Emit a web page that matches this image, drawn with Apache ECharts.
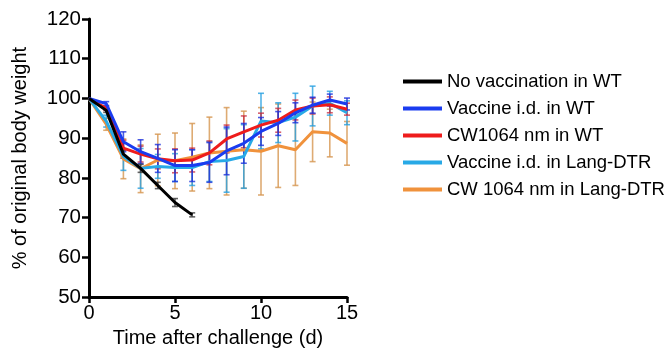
<!DOCTYPE html>
<html>
<head>
<meta charset="utf-8">
<script src="https://cdn.jsdelivr.net/npm/echarts@6/dist/echarts.min.js"></script>
<style>
  html, body { margin: 0; padding: 0; background: #fff; }
  #chart { width: 671px; height: 353px; }
</style>
</head>
<body>
<div id="chart"></div>
<script>
// days after challenge
const days = [0, 1, 2, 3, 4, 5, 6, 7, 8, 9, 10, 11, 12, 13, 14, 15]

// % of original body weight, mean and error (half-width)
const noVacc = [100, 97, 86, 82.4, 78.1, 73.8, 70.7]
const noVaccErr = [0, 0.5, 1, 1, 0.8, 1, 0.5]

const vaccWT = [100, 98.7, 89.1, 86.6, 84.9, 83.1, 83.1, 83.9, 86.8, 88.7, 91.7, 93.7, 96.4, 98.3, 99.6, 98.6]
const vaccWTErr = [0, 0.5, 2.5, 3, 3.5, 4, 4, 5, 6, 5, 3.5, 3, 2.5, 2, 1.5, 1.5]

const cwWT = [100, 97.5, 87.5, 86, 84.8, 84.3, 84.5, 86.3, 89.8, 91.6, 93.3, 94.5, 97.1, 98.1, 98.4, 97.3]
const cwWTErr = [0, 0.5, 2, 2, 2.5, 3, 3, 3, 3.5, 4, 3, 3, 2.5, 2, 2, 1.5]

const vaccDTR = [100, 94.3, 85.4, 82.4, 82.9, 82.6, 82.6, 84.1, 84.4, 85.4, 94.3, 93.9, 95.3, 98.1, 98.8, 96.4]
const vaccDTRErr = [0, 1.5, 3.5, 5, 3, 3.5, 4.5, 5, 8, 8, 7, 5, 6, 5, 3, 3]

const cwDTR = [100, 93.5, 84.8, 82.3, 84.5, 84.3, 85.2, 86.3, 86.7, 87.1, 86.7, 88.1, 87.1, 91.6, 91.3, 88.7]
const cwDTRErr = [0, 1.5, 5, 6, 6.5, 7, 8.5, 9, 11, 9.7, 11, 10.5, 9, 7.5, 6, 5.5]

const groups = [
  { name: "CW 1064 nm in Lang-DTR", data: cwDTR, err: cwDTRErr, color: "#f0923c", bar: "rgba(214,150,80,0.8)" },
  { name: "Vaccine i.d. in Lang-DTR", data: vaccDTR, err: vaccDTRErr, color: "#28a9e6", bar: "rgba(40,160,225,0.8)" },
  { name: "CW1064 nm in WT", data: cwWT, err: cwWTErr, color: "#ee1c1c", bar: "rgba(200,40,60,0.75)" },
  { name: "Vaccine i.d. in WT", data: vaccWT, err: vaccWTErr, color: "#1a3cf0", bar: "rgba(30,50,220,0.8)" },
  { name: "No vaccination in WT", data: noVacc, err: noVaccErr, color: "#000000", bar: "rgba(60,60,60,0.8)" },
]

const legendOrder = [
  "No vaccination in WT",
  "Vaccine i.d. in WT",
  "CW1064 nm in WT",
  "Vaccine i.d. in Lang-DTR",
  "CW 1064 nm in Lang-DTR",
]

const font = "Liberation Sans, Arial, sans-serif"

function errorBars(g, i) {
  return {
    type: "custom",
    z: 2 + i,
    silent: true,
    data: g.data.map((v, k) => [days[k], v, g.err[k]]),
    renderItem: (params, api) => {
      const x = api.value(0)
      const y = api.value(1)
      const e = api.value(2)
      if (!e) return null
      const hi = api.coord([x, y + e])
      const lo = api.coord([x, y - e])
      const w = 3
      const style = { stroke: g.bar, lineWidth: 1.6 }
      return {
        type: "group",
        children: [
          { type: "line", shape: { x1: hi[0], y1: hi[1], x2: lo[0], y2: lo[1] }, style },
          { type: "line", shape: { x1: hi[0] - w, y1: hi[1], x2: hi[0] + w, y2: hi[1] }, style },
          { type: "line", shape: { x1: lo[0] - w, y1: lo[1], x2: lo[0] + w, y2: lo[1] }, style },
        ],
      }
    },
  }
}

const series = []
groups.forEach((g, i) => series.push(errorBars(g, i)))
groups.forEach((g, i) => {
  series.push({
    name: g.name,
    type: "line",
    z: 10 + i,
    data: g.data.map((v, k) => [days[k], v]),
    showSymbol: false,
    symbol: "none",
    lineStyle: { color: g.color, width: 3 },
    itemStyle: { color: g.color },
  })
})

const chart = echarts.init(document.getElementById("chart"), null, { renderer: "canvas" })
chart.setOption({
  animation: false,
  backgroundColor: "#fff",
  grid: { left: 89, right: 324, top: 19, bottom: 54 },
  legend: {
    data: legendOrder,
    orient: "vertical",
    left: 398,
    top: 67,
    icon: "rect",
    itemWidth: 39,
    itemHeight: 4,
    itemGap: 8,
    textStyle: { fontFamily: font, fontSize: 18.5, color: "#000", lineHeight: 18 },
  },
  xAxis: {
    type: "value",
    min: 0,
    max: 15,
    interval: 5,
    name: "Time after challenge (d)",
    nameLocation: "middle",
    nameGap: 30,
    nameTextStyle: { fontFamily: font, fontSize: 20, color: "#000" },
    axisLine: { onZero: false, lineStyle: { color: "#000", width: 3 } },
    axisTick: { length: 6, lineStyle: { color: "#000", width: 2.5 } },
    axisLabel: { fontFamily: font, fontSize: 20, color: "#000", margin: 6 },
    splitLine: { show: false },
  },
  yAxis: {
    type: "value",
    min: 50,
    max: 120,
    interval: 10,
    name: "% of original body weight",
    nameLocation: "middle",
    nameGap: 59,
    nameTextStyle: { fontFamily: font, fontSize: 20, color: "#000" },
    axisLine: { show: true, onZero: false, lineStyle: { color: "#000", width: 3 } },
    axisTick: { show: true, length: 7, lineStyle: { color: "#000", width: 2.5 } },
    axisLabel: { fontFamily: font, fontSize: 20.5, color: "#000", margin: 8 },
    splitLine: { show: false },
  },
  series,
})
</script>
</body>
</html>
